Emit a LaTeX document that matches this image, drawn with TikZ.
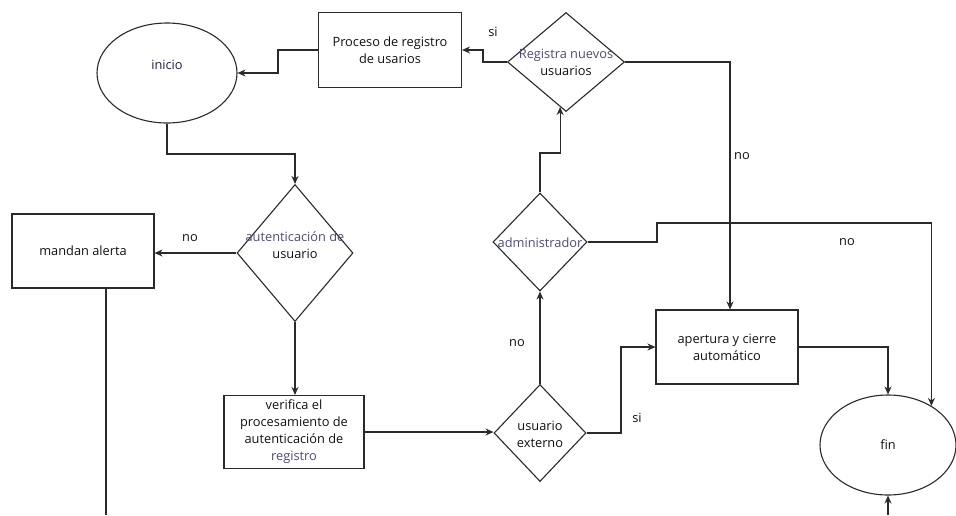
\documentclass[tikz,border=0pt]{standalone}
\usepackage{fontspec}
\setmainfont{Open Sans}
\usetikzlibrary{shapes.geometric,arrows.meta,calc}
\definecolor{ink}{HTML}{111111}
\definecolor{slate}{HTML}{4D4D75}
\definecolor{navy}{HTML}{1F1F4A}
\definecolor{wire}{HTML}{2A2A2A}

\begin{document}
\begin{tikzpicture}[x=1pt,y=-1pt,
  every node/.style={font=\fontsize{12.8}{17}\selectfont, text=ink},
  box/.style={draw=wire, line width=1.1pt, rectangle, inner sep=0pt, align=center},
  dia/.style={draw=wire, line width=1.1pt, diamond, inner sep=0pt},
  oval/.style={draw=wire, line width=1.1pt, ellipse, inner sep=0pt},
  txt/.style={align=center, inner sep=0pt},
  lbl/.style={inner sep=0pt},
  wireline/.style={draw=wire, line width=1.1pt},
  arr/.style={wireline, -{Stealth[length=8pt,width=7pt]}}]

\fill[white] (0,0) rectangle (956,515);
\useasboundingbox (0,0) rectangle (956,515);

% start / end
\node[oval, minimum width=140, minimum height=100] (ini) at (167,73) {};
\node[txt, text=navy] (initxt) at (167,65) {inicio};
\node[oval, minimum width=136, minimum height=100] (fin) at (888,445) {fin};

% process boxes
\node[box, minimum width=143, minimum height=75] (proc) at (390,50) {Proceso de registro\\de usarios};
\node[box, minimum width=142, minimum height=74] (alert) at (83,251) {mandan alerta};
\node[box, minimum width=140, minimum height=73] (verif) at (294,432)
  {verifica el\\procesamiento de\\autenticación de\\\textcolor{slate}{registro}};
\node[box, minimum width=142, minimum height=74] (apert) at (727,347) {apertura y cierre\\automático};

% decisions
\node[dia, minimum width=117, minimum height=99] (reg) at (566,62) {};
\node[txt] (regtxt) at (566,62) {\textcolor{slate}{Registra nuevos}\\usuarios};
\node[dia, minimum width=94, minimum height=98] (adm) at (540,242) {};
\node[txt, text=slate] (admtxt) at (540,243) {administrador};
\node[dia, minimum width=116, minimum height=137] (aut) at (295,253) {};
\node[txt] (auttxt) at (295,245) {\textcolor{slate}{autenticación de}\\usuario};
\node[dia, minimum width=92, minimum height=97] (ext) at (540,433) {};
\node[txt] (exttxt) at (540,434) {usuario\\externo};

% routing points
\coordinate (k1) at (278,0);
\coordinate (k2) at (0,154);
\coordinate (k3) at (621,0);
\coordinate (k4) at (0,153);
\coordinate (k5) at (483,0);
\coordinate (k6) at (730,0);
\coordinate (k7) at (657,223);
\coordinate (k8) at (106,0);
\coordinate (bot) at (0,515);
\coordinate (r1) at ($(reg.south)!0.1!(reg.west)$);

% connectors
\draw[arr] (proc.west) -- (proc.west -| k1) |- (ini.east);
\draw[arr] (ini.south) -- (ini.south |- k2) -| (aut.north);
\draw[arr] (aut.west) -- (aut.west -| alert.east);
\draw[wireline] (alert.south -| k8) -- (bot -| k8);
\draw[arr] (aut.south) -- (aut.south |- verif.north);
\draw[arr] (verif.east) -- (verif.east -| ext.west);
\draw[arr] (ext.north) -- (adm.south);
\draw[arr] (ext.east) -- (ext.east -| k3) |- (apert.west);
\draw[arr] (adm.north) -- (adm.north |- k4) -| (r1);
\draw[arr] (reg.west) -- (reg.west -| k5) |- (proc.east);
\draw[arr] (reg.east) -- (reg.east -| k6) -- (k6 |- apert.north);
\draw[arr] (adm.east) -| (k7) -| (fin.42);
\draw[arr] (apert.east) -| (fin.north);
\draw[arr] (bot -| fin.south) -- (fin.south);

% branch labels
\node[lbl] (l1) at (493,32) {si};
\node[lbl] (l2) at (742,156) {no};
\node[lbl] (l3) at (847,242) {no};
\node[lbl] (l4) at (517,343) {no};
\node[lbl] (l5) at (637,418) {si};
\node[lbl] (l6) at (190,238) {no};
\end{tikzpicture}
\end{document}
